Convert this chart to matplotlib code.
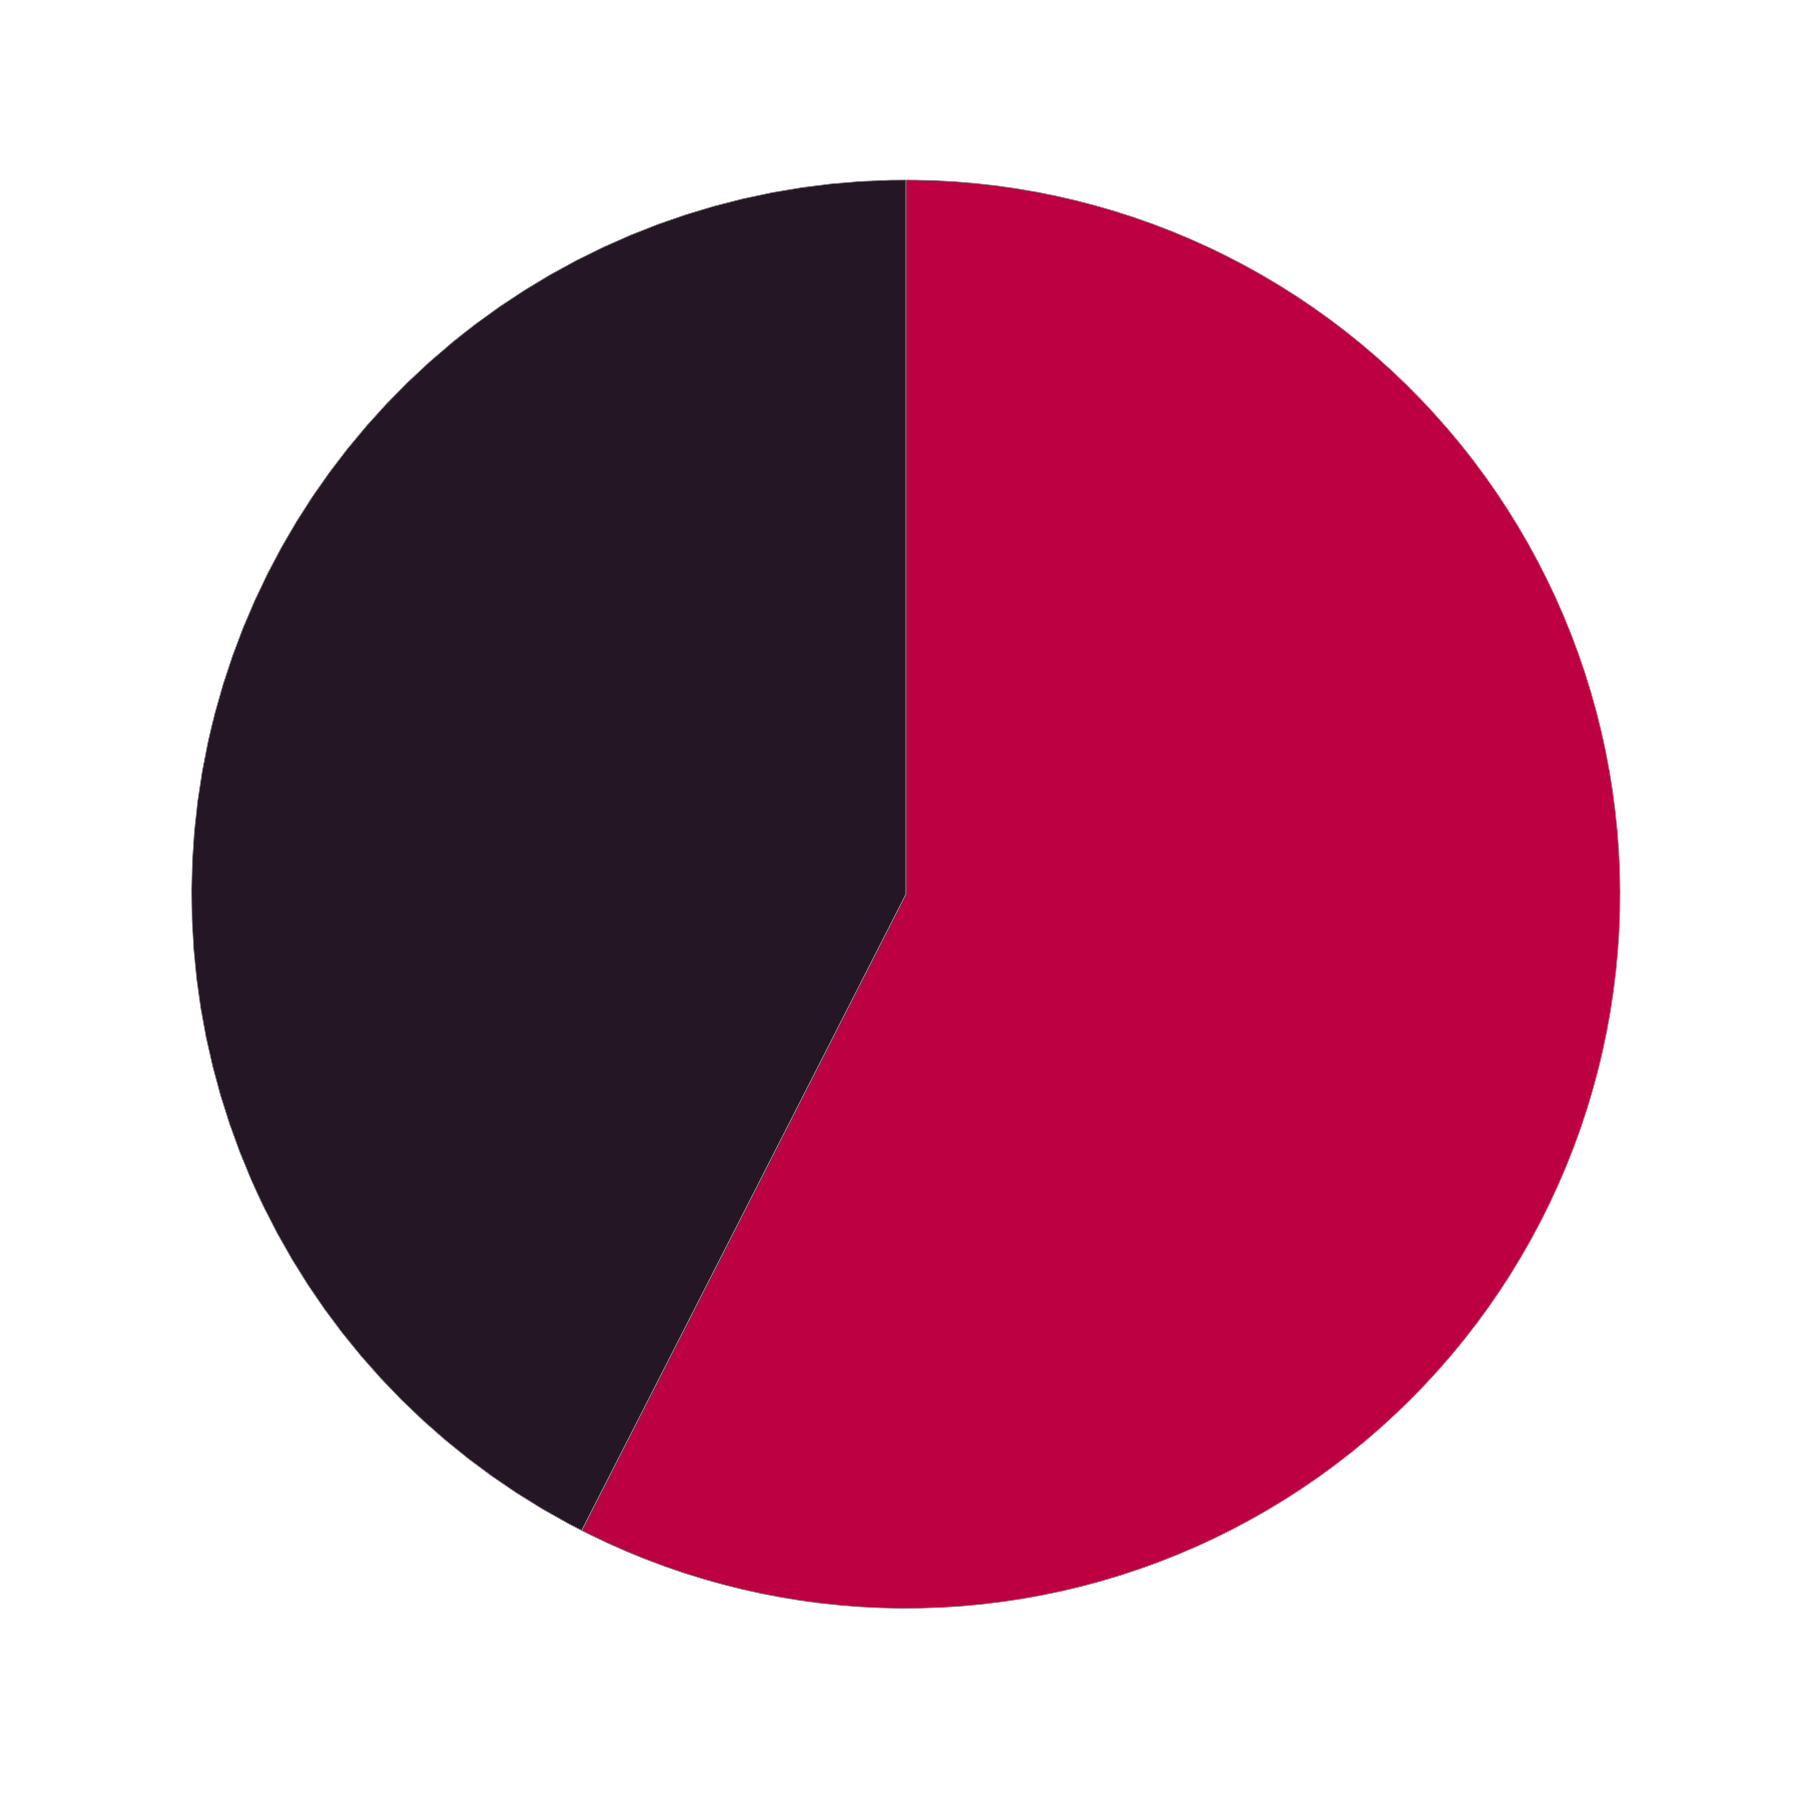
import matplotlib
matplotlib.use("Agg")
from matplotlib import pyplot as plt

labels = ["A", "B"]
values = [57.5, 42.5]
colors = ["#BD0041", "#241624"]

fig = plt.figure(figsize=(18, 18), dpi=100)
ax = fig.add_axes([0.1065, 0.1065, 0.7935, 0.7935])
ax.pie(
    values,
    colors=colors,
    startangle=90,
    counterclock=False,
    radius=1.0,
    wedgeprops={"linewidth": 0.5, "edgecolor": "#888888"},
)
ax.set_xlim(-1, 1)
ax.set_ylim(-1, 1)
ax.set_aspect("equal")
ax.axis("off")
fig.savefig("out.png", dpi=100, facecolor="white")
